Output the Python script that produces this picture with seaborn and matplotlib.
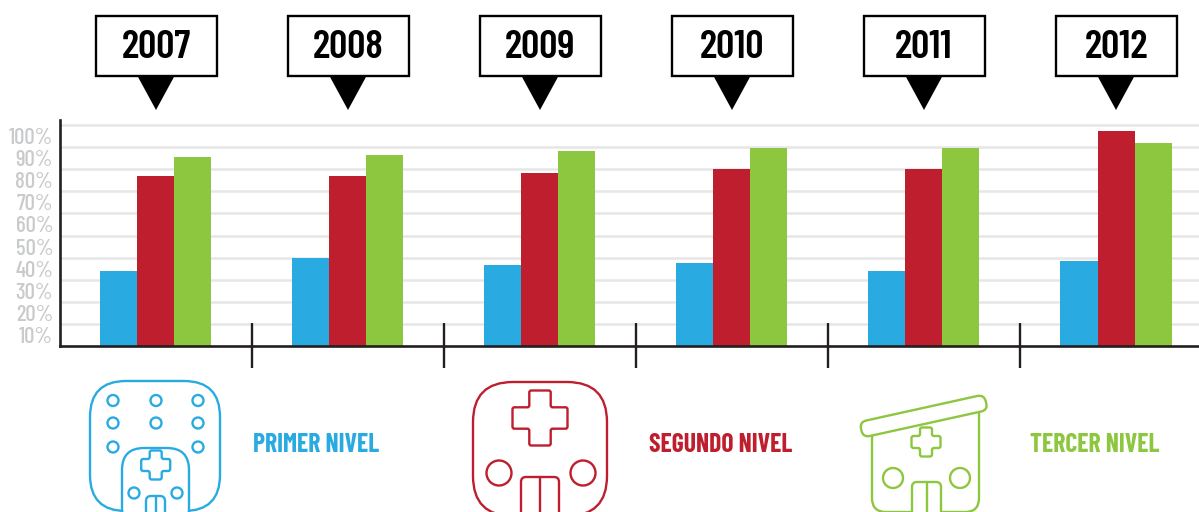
import matplotlib
matplotlib.use("Agg")
import matplotlib.pyplot as plt
from matplotlib.patches import Circle, PathPatch, Polygon, Rectangle
from matplotlib.path import Path
import pandas as pd
import seaborn as sns

years = ["2007", "2008", "2009", "2010", "2011", "2012"]
primer = [33.9, 39.8, 36.7, 37.6, 33.9, 38.5]
segundo = [76.9, 76.9, 78.3, 80.1, 80.1, 97.3]
tercer = [85.5, 86.4, 88.2, 89.6, 89.6, 91.9]
levels = ["PRIMER NIVEL", "SEGUNDO NIVEL", "TERCER NIVEL"]
tick_labels = ["10%", "20%", "30%", "40%", "50%", "60%", "70%", "80%", "90%", "100%"]

BLUE = "#29abe2"
RED = "#be1e2d"
GREEN = "#8dc63f"
GREY = "#c9cacc"
DARK = "#231f20"

sns.set_theme(style="white")
plt.rcParams["font.family"] = ["Barlow Condensed", "Lato", "DejaVu Sans"]

df = pd.DataFrame({
    "year": years * 3,
    "level": [levels[0]] * 6 + [levels[1]] * 6 + [levels[2]] * 6,
    "value": primer + segundo + tercer,
})

fig = plt.figure(figsize=(11.99, 5.12), dpi=100)
ax = fig.add_axes([60 / 1199, 166 / 512, 1139 / 1199, 226 / 512])
sns.barplot(data=df, x="year", y="value", hue="level", hue_order=levels,
            palette=[BLUE, RED, GREEN], width=0.578, gap=0, saturation=1,
            linewidth=0, legend=False, ax=ax, zorder=3)
ax.set_xlim(-0.497, 5.432)
ax.set_ylim(0, 102.3)
ax.set_xlabel("")
ax.set_ylabel("")
ax.set_xticks([])
ax.set_yticks(range(10, 101, 10))
ax.set_yticklabels([])
ax.set_yticks(range(5, 96, 10), minor=True)
ax.set_yticklabels(tick_labels, minor=True, color=GREY, fontsize=16.5, fontweight="medium")
ax.tick_params(axis="y", which="both", length=0, pad=5)
ax.grid(axis="y", which="major", color="#e6e6e6", lw=1.8, zorder=0)
ax.set_axisbelow(True)
sns.despine(ax=ax, top=True, right=True)
for side in ["left", "bottom"]:
    ax.spines[side].set_color(DARK)
    ax.spines[side].set_linewidth(1.9)
    ax.spines[side].set_zorder(5)

# separators between the years
ax.vlines([0.5, 1.5, 2.5, 3.5, 4.5], -10, 10.4, color=DARK, lw=1.7,
          clip_on=False, zorder=5)

# everything around the chart, in pixels
ov = fig.add_axes([0, 0, 1, 1], zorder=10)
ov.set_xlim(0, 1199)
ov.set_ylim(512, 0)
ov.axis("off")


def rounded(points, r):
    # closed outline with rounded corners
    verts, codes = [], []
    n = len(points)
    for i in range(n):
        px, py = points[i - 1]
        x, y = points[i]
        nx, ny = points[(i + 1) % n]
        d1 = ((px - x) ** 2 + (py - y) ** 2) ** 0.5
        d2 = ((nx - x) ** 2 + (ny - y) ** 2) ** 0.5
        a = (x + (px - x) * r / d1, y + (py - y) * r / d1)
        b = (x + (nx - x) * r / d2, y + (ny - y) * r / d2)
        verts += [a, (x, y), b]
        codes += [Path.MOVETO if i == 0 else Path.LINETO, Path.CURVE3, Path.CURVE3]
    verts.append(verts[0])
    codes.append(Path.CLOSEPOLY)
    return Path(verts, codes)


def shape(points, r, color, z=1):
    ov.add_patch(PathPatch(rounded(points, r), fc="white", ec=color, lw=1.7, zorder=z))


def box(x0, y0, x1, y1, r, color, z=1):
    shape([(x0, y0), (x1, y0), (x1, y1), (x0, y1)], r, color, z)


def cross(cx, cy, a, b, color, z=3):
    pts = [(cx - b, cy - a), (cx + b, cy - a), (cx + b, cy - b), (cx + a, cy - b),
           (cx + a, cy + b), (cx + b, cy + b), (cx + b, cy + a), (cx - b, cy + a),
           (cx - b, cy + b), (cx - a, cy + b), (cx - a, cy - b), (cx - b, cy - b)]
    shape(pts, 2, color, z)


def dots(centers, r, color, z=3):
    for c in centers:
        ov.add_patch(Circle(c, r, fc="white", ec=color, lw=1.7, zorder=z))


def door(x0, x1, top, color, z=3):
    box(x0, top, x1, top + 60, 5, color, z)
    ov.plot([(x0 + x1) / 2] * 2, [top, top + 60], color=color, lw=1.7, zorder=z + 1)


# year callouts
for i, year in enumerate(years):
    cx = 156 + 192 * i
    ov.add_patch(Rectangle((cx - 60.5, 16), 121, 60, fc="white", ec="black", lw=1.7))
    ov.add_patch(Polygon([(cx - 18.5, 76), (cx + 18.5, 76), (cx, 110)], fc="black", ec="none"))
    ov.text(cx, 48, year, ha="center", va="center", fontsize=29,
            fontweight="semibold", color="black")

# primer nivel icon
box(90, 381, 220, 511, 36, BLUE)
box(122, 448, 189, 530, 22, BLUE, z=2)
dots([(113, 400.5), (156, 400.5), (198, 400.5), (113, 423), (156, 423), (198, 423),
      (113, 447), (198, 447)], 5.5, BLUE)
cross(155.7, 465, 14.5, 6, BLUE)
dots([(134, 493), (177, 493)], 5.5, BLUE)
door(146, 165, 496, BLUE)

# segundo nivel icon
box(473, 382, 607, 516, 40, RED)
cross(540, 418, 27.5, 10.7, RED)
dots([(499, 473), (583, 473)], 12.5, RED)
door(521, 559, 477, RED)

# tercer nivel icon
shape([(872, 425), (979, 398), (979, 512), (872, 512)], 14, GREEN)
shape([(859.5, 422), (984, 394.5), (988, 410), (863, 437.5)], 7, GREEN, z=2)
cross(926, 442, 14.5, 6, GREEN)
dots([(893, 478), (960, 478)], 10, GREEN)
door(912, 941, 482, GREEN)

# level names
ov.text(316.5, 445, levels[0], ha="center", va="center", color=BLUE, fontsize=18.5, fontweight="bold")
ov.text(721, 445, levels[1], ha="center", va="center", color=RED, fontsize=18.5, fontweight="bold")
ov.text(1094.5, 445, levels[2], ha="center", va="center", color=GREEN, fontsize=18.5, fontweight="bold")

fig.savefig("out.png", dpi=100, facecolor="white")
